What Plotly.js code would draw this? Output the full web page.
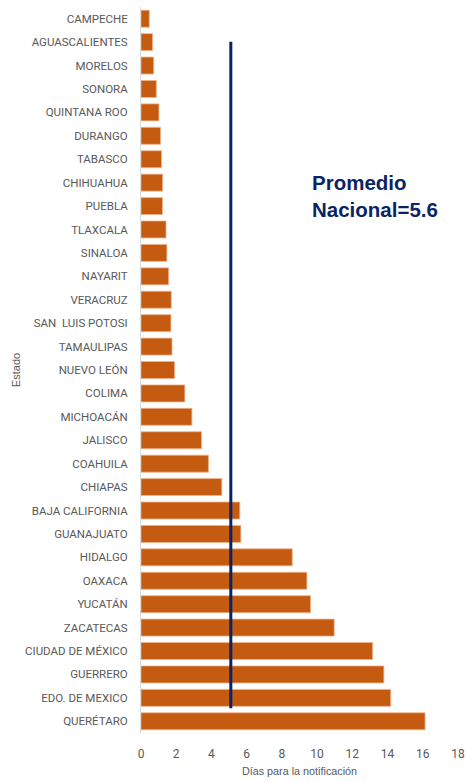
<!DOCTYPE html>
<html>
<head>
<meta charset="utf-8">
<script src="https://cdn.plot.ly/plotly-3.0.1.min.js"></script>
<style>html,body{margin:0;padding:0;background:#fff;}#chart{width:466px;height:782px;}</style>
</head>
<body>
<div id="chart"></div>
<script>
const estados = ["CAMPECHE","AGUASCALIENTES","MORELOS","SONORA","QUINTANA ROO","DURANGO","TABASCO","CHIHUAHUA","PUEBLA","TLAXCALA","SINALOA","NAYARIT","VERACRUZ","SAN  LUIS POTOSI","TAMAULIPAS","NUEVO LEÓN","COLIMA","MICHOACÁN","JALISCO","COAHUILA","CHIAPAS","BAJA CALIFORNIA","GUANAJUATO","HIDALGO","OAXACA","YUCATÁN","ZACATECAS","CIUDAD DE MÉXICO","GUERRERO","EDO. DE MEXICO","QUERÉTARO"];
const dias = [0.47,0.66,0.72,0.87,1.02,1.11,1.17,1.23,1.22,1.42,1.47,1.57,1.72,1.70,1.76,1.91,2.49,2.89,3.44,3.83,4.59,5.61,5.67,8.59,9.42,9.63,10.97,13.15,13.79,14.18,16.13];
const promedioLinea = 5.1;
const promedioTexto = "Promedio<br>Nacional=5.6";
const xTicks = [0,2,4,6,8,10,12,14,16,18];

const gray = "#595959";
const labelFont = {family: "Roboto, Liberation Sans, sans-serif", size: 11.5, color: gray};

const trace = {
  type: "bar",
  orientation: "h",
  y: estados,
  x: dias,
  marker: {color: "#C55A11", line: {color: "#f0b48c", width: 0.8}},
  hoverinfo: "x+y"
};

const layout = {
  width: 466, height: 782,
  margin: {l: 141, r: 8, t: 7, b: 49, autoexpand: false},
  paper_bgcolor: "#fff", plot_bgcolor: "#fff",
  bargap: 0.275,
  showlegend: false,
  xaxis: {
    range: [0, 18], tickvals: xTicks, ticktext: xTicks.map(String),
    showgrid: false, zeroline: false, showline: false,
    ticks: "", ticklabelstandoff: 12,
    tickfont: {family: "Roboto, Liberation Sans, sans-serif", size: 12, color: gray},
    title: {text: "Días para la notificación", font: {family: "Liberation Sans, Arial, sans-serif", size: 10.8, color: gray}, standoff: 7},
    automargin: false
  },
  yaxis: {
    type: "category",
    categoryorder: "array", categoryarray: estados,
    range: [30.5, -0.5],
    showgrid: false, zeroline: false,
    showline: true, linecolor: "#d9d9d9", linewidth: 1,
    ticks: "", ticklabelstandoff: 10,
    tickfont: labelFont,
    title: {text: "Estado", font: {family: "Liberation Sans, Arial, sans-serif", size: 11, color: gray}, standoff: 2},
    automargin: true
  },
  shapes: [{
    type: "line", xref: "x", yref: "paper",
    x0: promedioLinea, x1: promedioLinea, y0: 0.034, y1: 0.952,
    line: {color: "#0a2463", width: 3}
  }],
  annotations: [{
    text: "<b>" + promedioTexto + "</b>",
    xref: "x", yref: "paper", x: 9.62, y: 0.74,
    xanchor: "left", yanchor: "middle", align: "left",
    showarrow: false,
    font: {family: "Liberation Sans, Arial, sans-serif", size: 20.5, color: "#0a2463"}
  }]
};

Plotly.newPlot("chart", [trace], layout, {displayModeBar: false, staticPlot: true});
</script>
</body>
</html>
